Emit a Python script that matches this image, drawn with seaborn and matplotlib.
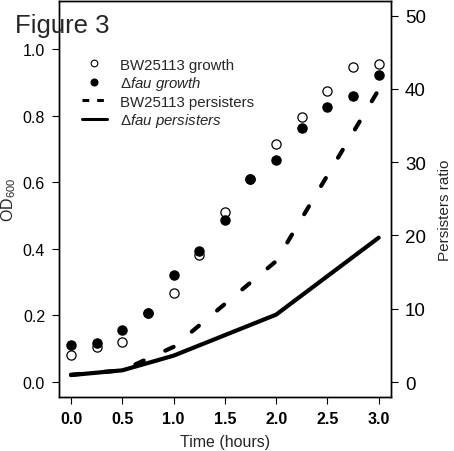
import numpy as np
import pandas as pd
import matplotlib
matplotlib.use("Agg")
import matplotlib.pyplot as plt
from matplotlib.lines import Line2D
from matplotlib.legend_handler import HandlerLine2D
import seaborn as sns

# ---- data ----
time = [0.0, 0.25, 0.5, 0.75, 1.0, 1.25, 1.5, 1.75, 2.0, 2.25, 2.5, 2.75, 3.0]
bw_growth = [0.080, 0.105, 0.121, 0.206, 0.267, 0.381, 0.511, 0.609, 0.714, 0.795, 0.873, 0.947, 0.955]
fau_growth = [0.110, 0.116, 0.156, 0.206, 0.321, 0.394, 0.487, 0.609, 0.666, 0.762, 0.827, 0.859, 0.922]

pers_time = [0.0, 0.5, 1.0, 2.0, 3.0]
bw_pers = [1.0, 1.6, 4.8, 16.5, 39.9]
fau_pers = [0.95, 1.6, 3.6, 9.2, 19.7]

x_ticks = [0.0, 0.5, 1.0, 1.5, 2.0, 2.5, 3.0]
x_ticklabels = ["0.0", "0.5", "1.0", "1.5", "2.0", "2.5", "3.0"]
left_ticks = [0.0, 0.2, 0.4, 0.6, 0.8, 1.0]
left_ticklabels = ["0.0", "0.2", "0.4", "0.6", "0.8", "1.0"]
right_ticks = [0, 10, 20, 30, 40, 50]
right_ticklabels = ["0", "10", "20", "30", "40", "50"]

legend_labels = ["BW25113 growth", "Δ$\\mathit{fau\\ growth}$",
                 "BW25113 persisters", "Δ$\\mathit{fau\\ persisters}$"]

growth_df = pd.DataFrame({"time": time, "bw": bw_growth, "fau": fau_growth})
pers_df = pd.DataFrame({"time": pers_time, "bw": bw_pers, "fau": fau_pers})

# ---- style ----
sns.set_style("ticks")
plt.rcParams["font.family"] = ["Liberation Sans", "DejaVu Sans"]
plt.rcParams["mathtext.fontset"] = "custom"
plt.rcParams["mathtext.rm"] = "Liberation Sans"
plt.rcParams["mathtext.it"] = "Liberation Sans:italic"
plt.rcParams["mathtext.bf"] = "Liberation Sans:bold"

W, H = 454, 452
fig = plt.figure(figsize=(W / 100, H / 100), dpi=100)
ax = fig.add_axes([58.7 / W, 1 - 397.7 / H, (391 - 58.7) / W, (397.7 - 2) / H])
ax2 = ax.twinx()

# growth points
sns.scatterplot(data=growth_df, x="time", y="bw", ax=ax, marker="o", s=44,
                facecolor="white", edgecolor="black", linewidth=0.9, zorder=3)
sns.scatterplot(data=growth_df, x="time", y="fau", ax=ax, marker="o", s=44,
                color="black", edgecolor="black", linewidth=0.9, zorder=4)

# persisters lines
sns.lineplot(data=pers_df, x="time", y="bw", ax=ax2, color="black", lw=3,
             linestyle=(0, (2.2, 5.7)), dash_capstyle="round",
             dash_joinstyle="round")
sns.lineplot(data=pers_df, x="time", y="fau", ax=ax2, color="black", lw=3,
             solid_capstyle="round", solid_joinstyle="round")

# axes ranges
ax.set_xlim(-0.12, 3.12)
ax.set_ylim(-0.044, 1.144)
ax2.set_ylim(-2.0, 52.0)

ax.set_xticks(x_ticks)
ax.set_xticklabels(x_ticklabels, fontsize=11.5, fontweight="bold")
ax.set_yticks(left_ticks)
ax.set_yticklabels(left_ticklabels, fontsize=11.5)
ax2.set_yticks(right_ticks)
ax2.set_yticklabels(right_ticklabels, fontsize=13.5)

ax.set_xlabel("")
ax.set_ylabel("")
ax2.set_xlabel("")
ax2.set_ylabel("")

for a in (ax, ax2):
    for sp in a.spines.values():
        sp.set_visible(True)
        sp.set_linewidth(1.0)
        sp.set_color("black")

ax.tick_params(axis="x", direction="out", length=5, width=0.8, pad=5, colors="black")
ax.tick_params(axis="y", direction="out", length=4.8, width=0.8, pad=5, colors="black")
ax2.tick_params(axis="y", direction="out", length=5, width=0.8, pad=5, colors="black")

# texts
fig.text(15 / W, 1 - 32.7 / H, "Figure 3", fontsize=18.5, va="baseline", ha="left")
fig.text(9 / W, 1 - 200 / H, "OD$_{600}$", rotation=90, fontsize=11.5,
         ha="center", va="center")
fig.text(225 / W, 1 - 443 / H, "Time (hours)", fontsize=11.5, ha="center", va="center")
fig.text(445 / W, 1 - 210 / H, "Persisters ratio", rotation=90, fontsize=11,
         ha="center", va="center")


class SplitHandler(HandlerLine2D):
    def __init__(self, line_frac=(0.0, 1.0), marker_frac=0.5, **kw):
        super().__init__(**kw)
        self.line_frac = line_frac
        self.marker_frac = marker_frac

    def get_xdata(self, legend, xdescent, ydescent, width, height, fontsize):
        xd = np.array([-xdescent + width * self.line_frac[0],
                       -xdescent + width * self.line_frac[1]])
        xm = np.array([-xdescent + width * self.marker_frac])
        return xd, xm


h_open = Line2D([], [], linestyle="none", marker="o", markersize=4.8,
                markerfacecolor="white", markeredgecolor="black", markeredgewidth=0.8)
h_fill = Line2D([], [], linestyle="none", marker="o", markersize=4.8,
                markerfacecolor="black", markeredgecolor="black")
h_dash = Line2D([], [], color="black", lw=2.2, linestyle=(0, (2.2, 2.6)),
                dash_capstyle="butt")
h_solid = Line2D([], [], color="black", lw=2.2)

mh = SplitHandler(line_frac=(0.0, 0.76), marker_frac=0.91, numpoints=1)
lh = SplitHandler(line_frac=(0.0, 0.76), marker_frac=0.91, numpoints=1)

leg = ax2.legend(handles=[h_open, h_fill, h_dash, h_solid], labels=legend_labels,
                 handler_map={h_open: mh, h_fill: mh, h_dash: lh, h_solid: lh},
                 loc="upper left", bbox_to_anchor=(81.7 / W, 1 - 58.5 / H),
                 bbox_transform=fig.transFigure, frameon=False, fontsize=10.8,
                 borderpad=0, borderaxespad=0, handlelength=2.2,
                 handletextpad=0.35, labelspacing=0.17)

fig.savefig("out.png", dpi=100)
